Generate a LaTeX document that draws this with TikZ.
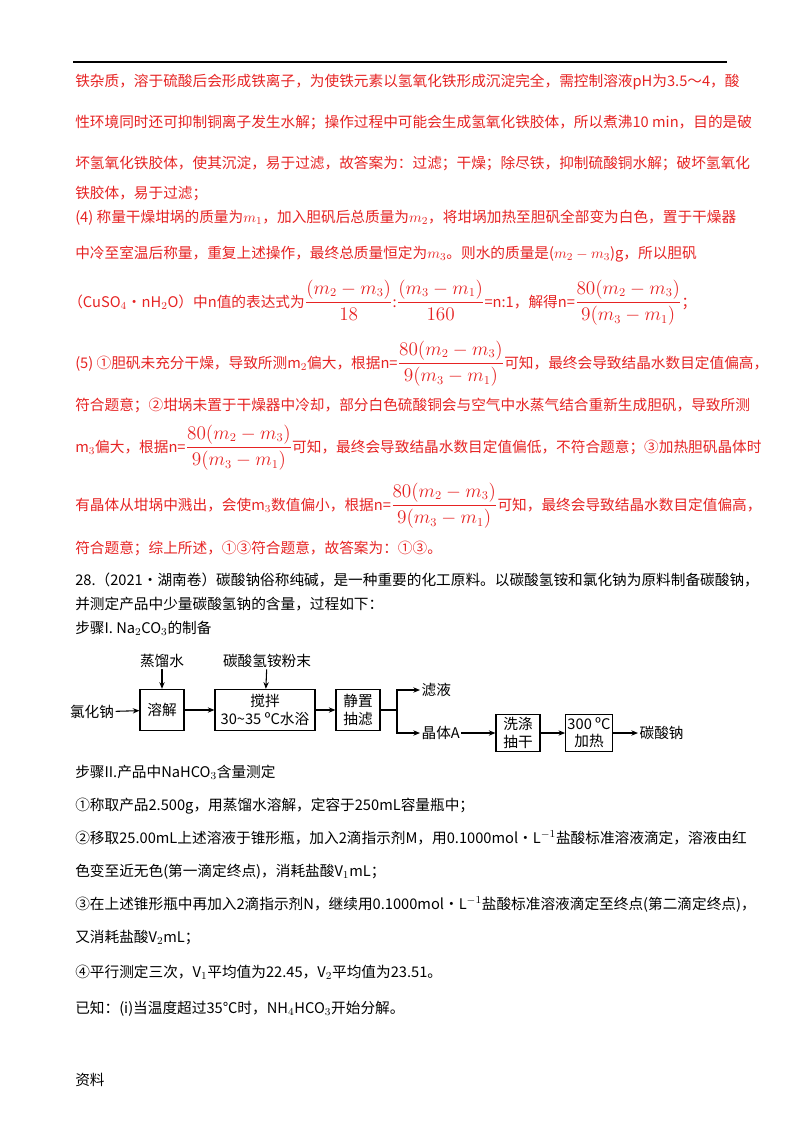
\documentclass[tikz,border=0pt]{standalone}
\usepackage[no-math]{fontspec}
\setmainfont{Noto Sans CJK SC}
\usetikzlibrary{arrows.meta}
\definecolor{ans}{RGB}{230,35,35}
\newcommand{\fr}[2]{{\fontsize{13.5}{15}\selectfont$\displaystyle\frac{#1}{#2}$}}
\newcommand{\nfrac}{\fr{80(m_2-m_3)}{9(m_3-m_1)}}
\begin{document}
\begin{tikzpicture}[x=0.75pt,y=-0.75pt,
  ln/.style={anchor=base west,inner sep=0pt,font=\fontsize{11}{13}\selectfont},
  rd/.style={ln,text=ans},
  bx/.style={draw,thick,minimum width=#1,minimum height=31pt,align=center,inner sep=1pt,font=\fontsize{11}{13}\selectfont},
  lb/.style={inner sep=1pt,font=\fontsize{11}{13}\selectfont},
  ar/.style={-{Stealth[length=5pt,width=4pt]},thick}]
\useasboundingbox (0,0) rectangle (800,1132);
\draw[thick] (73,62) -- (727,62);
\node[rd] (l1) at (75,86) {铁杂质，溶于硫酸后会形成铁离子，为使铁元素以氢氧化铁形成沉淀完全，需控制溶液pH为3.5～4，酸};
\node[rd] (l2) at (75,127) {性环境同时还可抑制铜离子发生水解；操作过程中可能会生成氢氧化铁胶体，所以煮沸10 min，目的是破};
\node[rd] (l3) at (75,168) {坏氢氧化铁胶体，使其沉淀，易于过滤，故答案为：过滤；干燥；除尽铁，抑制硫酸铜水解；破坏氢氧化};
\node[rd] (l4) at (75,198) {铁胶体，易于过滤；};
\node[rd] (l5) at (75,222) {(4) 称量干燥坩埚的质量为$m_1$，加入胆矾后总质量为$m_2$，将坩埚加热至胆矾全部变为白色，置于干燥器};
\node[rd] (l6) at (75,258) {中冷至室温后称量，重复上述操作，最终总质量恒定为$m_3$。则水的质量是($m_2-m_3$)g，所以胆矾};
\node[rd] (l7) at (68,307) {（CuSO$_4$•nH$_2$O）中n值的表达式为\fr{(m_2-m_3)}{18}:\fr{(m_3-m_1)}{160}=n:1，解得n=\nfrac；};
\node[rd] (l8) at (75,368) {(5) ①胆矾未充分干燥，导致所测m$_2$偏大，根据n=\nfrac 可知，最终会导致结晶水数目定值偏高，};
\node[rd] (l9) at (75,410) {符合题意；②坩埚未置于干燥器中冷却，部分白色硫酸铜会与空气中水蒸气结合重新生成胆矾，导致所测};
\node[rd] (l10) at (75,452) {m$_3$偏大，根据n=\nfrac 可知，最终会导致结晶水数目定值偏低，不符合题意；③加热胆矾晶体时};
\node[rd] (l11) at (75,510) {有晶体从坩埚中溅出，会使m$_3$数值偏小，根据n=\nfrac 可知，最终会导致结晶水数目定值偏高，};
\node[rd] (l12) at (75,553) {符合题意；综上所述，①③符合题意，故答案为：①③。};
\node[ln] (t1) at (75,585) {28.（2021·湖南卷）碳酸钠俗称纯碱，是一种重要的化工原料。以碳酸氢铵和氯化钠为原料制备碳酸钠，};
\node[ln] (t2) at (75,609) {并测定产品中少量碳酸氢钠的含量，过程如下：};
\node[ln] (t3) at (75,633) {步骤I. Na$_2$CO$_3$的制备};
% flow
\node[lb] (nacl) at (92,712) {氯化钠};
\node[bx=33pt] (b1) at (162,710) {溶解};
\node[bx=75pt] (b2) at (265,710) {搅拌\\30\textasciitilde35 ºC水浴};
\node[bx=33pt] (b3) at (358,710) {静置\\抽滤};
\node[lb] (w) at (162,661) {蒸馏水};
\node[lb] (nh) at (267,661) {碳酸氢铵粉末};
\coordinate (sp) at (397,710);
\node[lb,anchor=west] (lv) at (420,690) {滤液};
\node[lb,anchor=west] (ca) at (420,733) {晶体A};
\node[bx=33pt,minimum height=28pt] (b4) at (518,733) {洗涤\\抽干};
\node[bx=35pt,minimum height=28pt] (b5) at (589,733) {300 ºC\\加热};
\node[lb,anchor=west] (pr) at (638,733) {碳酸钠};
\draw[ar] (nacl) -- (b1);
\draw[ar] (w) -- (b1);
\draw[ar] (nh) -- (b2);
\draw[ar] (b1) -- (b2);
\draw[ar] (b2) -- (b3);
\draw[thick] (b3) -- (sp);
\draw[ar] (sp) |- (lv);
\draw[ar] (sp) |- (ca);
\draw[ar] (ca) -- (b4);
\draw[ar] (b4) -- (b5);
\draw[ar] (b5) -- (pr);
\node[ln] (t4) at (75,777) {步骤II.产品中NaHCO$_3$含量测定};
\node[ln] (t5) at (75,810) {①称取产品2.500g，用蒸馏水溶解，定容于250mL容量瓶中；};
\node[ln] (t6) at (75,843) {②移取25.00mL上述溶液于锥形瓶，加入2滴指示剂M，用0.1000mol·L$^{-1}$盐酸标准溶液滴定，溶液由红};
\node[ln] (t7) at (75,876) {色变至近无色(第一滴定终点)，消耗盐酸V$_1$mL；};
\node[ln] (t8) at (75,909) {③在上述锥形瓶中再加入2滴指示剂N，继续用0.1000mol·L$^{-1}$盐酸标准溶液滴定至终点(第二滴定终点)，};
\node[ln] (t9) at (75,942) {又消耗盐酸V$_2$mL；};
\node[ln] (t10) at (75,977) {④平行测定三次，V$_1$平均值为22.45，V$_2$平均值为23.51。};
\node[ln] (t11) at (75,1013) {已知：(i)当温度超过35℃时，NH$_4$HCO$_3$开始分解。};
\node[ln] (t12) at (75,1085) {资料};
\end{tikzpicture}
\end{document}
